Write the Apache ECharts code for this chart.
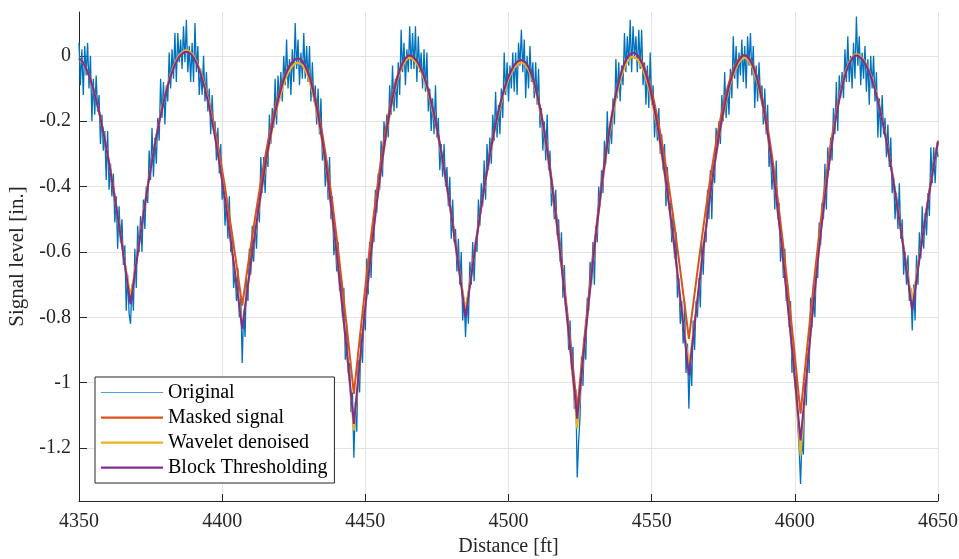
<!DOCTYPE html>
<html>
<head>
<meta charset="utf-8">
<script src="https://cdn.jsdelivr.net/npm/echarts@6/dist/echarts.min.js"></script>
<style>
html,body{margin:0;padding:0;background:#fff;}
#chart{width:959px;height:559px;}
</style>
</head>
<body>
<div id="chart"></div>
<script>
// Sampling grids (distance, ft)
const smoothStart = 4350, smoothStep = 1;
const origStart = 4350, origStep = 0.5;

const seriesNames = ['Original', 'Masked signal', 'Wavelet denoised', 'Block Thresholding'];
const xTicks = [4350, 4400, 4450, 4500, 4550, 4600, 4650];

// Masked signal, 1 ft steps from 4350 to 4650
const maskedSignal = [
-.008,-.015,-.030,-.049,-.073,-.101,-.134,-.170,-.211,-.254,-.302,-.351,-.404,-.459,-.516,-.574,-.634,-.694,
-.755,
-.693,-.632,-.571,-.512,-.454,-.398,-.345,-.295,-.246,-.202,-.161,-.124,-.091,-.062,-.038,-.018,-.003,.006,.012,
.012,.006,-.003,-.018,-.039,-.063,-.092,-.125,-.163,-.204,-.249,-.298,-.350,-.403,-.460,-.518,-.578,-.639,-.701,
-.764,
-.703,-.642,-.583,-.525,-.468,-.413,-.360,-.310,-.262,-.219,-.178,-.142,-.109,-.081,-.057,-.037,-.023,-.014,-.008,
-.009,-.016,-.029,-.048,-.074,-.107,-.146,-.190,-.239,-.294,-.353,-.418,-.485,-.557,-.632,-.710,-.789,-.869,-.952,
-1.034,
-.951,-.868,-.787,-.707,-.629,-.553,-.481,-.413,-.348,-.288,-.233,-.183,-.139,-.100,-.067,-.041,-.021,-.008,.001,
.001,-.006,-.016,-.031,-.051,-.076,-.106,-.140,-.178,-.220,-.266,-.316,-.368,-.423,-.480,-.540,-.601,-.663,-.726,
-.790,
-.727,-.665,-.604,-.544,-.485,-.429,-.375,-.324,-.275,-.229,-.188,-.151,-.117,-.088,-.063,-.044,-.029,-.019,-.013,
-.014,-.021,-.035,-.056,-.082,-.116,-.156,-.202,-.253,-.310,-.373,-.439,-.510,-.584,-.662,-.742,-.825,-.909,-.994,
-1.080,
-.992,-.906,-.820,-.735,-.653,-.574,-.498,-.426,-.358,-.295,-.236,-.184,-.137,-.096,-.062,-.034,-.013,.001,.008,
.009,.003,-.008,-.025,-.048,-.076,-.108,-.146,-.188,-.236,-.286,-.341,-.398,-.460,-.523,-.589,-.657,-.726,-.795,
-.866,
-.796,-.727,-.659,-.592,-.527,-.464,-.403,-.346,-.292,-.241,-.194,-.152,-.115,-.082,-.054,-.032,-.015,-.004,.002,
.001,-.006,-.020,-.041,-.069,-.104,-.145,-.192,-.245,-.304,-.368,-.436,-.509,-.585,-.665,-.748,-.833,-.919,-1.007,
-1.095,
-1.007,-.919,-.833,-.748,-.665,-.585,-.509,-.436,-.368,-.304,-.245,-.192,-.145,-.104,-.069,-.041,-.020,-.006,.001,
.001,-.005,-.014,-.029,-.048,-.072,-.101,-.134,-.172,-.213,-.258,-.307,-.357,-.411,-.467,-.526,-.586,-.646,-.708,
-.770,
-.708,-.646,-.586,-.526,-.468,-.412,-.358,-.308,-.259
];

// Wavelet denoised, 1 ft steps
const waveletDenoised = [
-.008,-.015,-.030,-.049,-.073,-.102,-.135,-.171,-.212,-.256,-.304,-.354,-.407,-.462,-.519,-.578,-.634,-.686,
-.733,
-.686,-.632,-.574,-.513,-.455,-.398,-.345,-.294,-.245,-.200,-.158,-.121,-.087,-.057,-.033,-.013,.002,.011,.017,
.017,.011,.000,-.016,-.038,-.065,-.097,-.133,-.175,-.220,-.269,-.324,-.380,-.438,-.501,-.565,-.630,-.697,-.762,
-.825,
-.764,-.701,-.641,-.578,-.515,-.458,-.400,-.346,-.295,-.248,-.203,-.166,-.132,-.101,-.074,-.053,-.038,-.027,-.021,
-.022,-.029,-.044,-.065,-.093,-.129,-.171,-.219,-.269,-.329,-.393,-.462,-.535,-.614,-.692,-.776,-.863,-.949,-1.046,
-1.146,
-1.045,-.948,-.859,-.771,-.687,-.607,-.528,-.454,-.385,-.320,-.260,-.207,-.159,-.117,-.081,-.053,-.031,-.016,-.007,
-.007,-.014,-.024,-.040,-.060,-.085,-.115,-.150,-.186,-.229,-.276,-.324,-.376,-.432,-.488,-.549,-.611,-.668,-.723,
-.774,
-.724,-.670,-.614,-.553,-.493,-.438,-.383,-.332,-.285,-.238,-.196,-.161,-.126,-.097,-.072,-.053,-.037,-.027,-.021,
-.022,-.029,-.043,-.065,-.092,-.127,-.168,-.215,-.266,-.325,-.389,-.455,-.528,-.604,-.682,-.764,-.849,-.939,-1.038,
-1.141,
-1.036,-.936,-.846,-.759,-.675,-.596,-.518,-.445,-.377,-.313,-.252,-.202,-.154,-.112,-.077,-.048,-.026,-.012,-.004,
-.004,-.011,-.024,-.043,-.069,-.099,-.136,-.179,-.222,-.276,-.333,-.393,-.457,-.527,-.595,-.669,-.746,-.815,-.882,
-.947,
-.883,-.816,-.746,-.670,-.597,-.528,-.459,-.395,-.336,-.279,-.226,-.181,-.139,-.102,-.072,-.047,-.028,-.015,-.006,
-.007,-.017,-.032,-.055,-.085,-.122,-.166,-.216,-.271,-.334,-.403,-.474,-.552,-.634,-.718,-.806,-.897,-.995,-1.105,
-1.223,
-1.105,-.995,-.894,-.803,-.715,-.628,-.546,-.468,-.394,-.325,-.262,-.204,-.154,-.110,-.073,-.043,-.020,-.005,.005,
.005,-.002,-.012,-.027,-.047,-.071,-.100,-.134,-.173,-.214,-.260,-.309,-.361,-.416,-.473,-.532,-.593,-.645,-.700,
-.748,
-.700,-.645,-.593,-.532,-.474,-.417,-.363,-.311,-.263
];

// Block thresholding, 1 ft steps
const blockThresholding = [
-.008,-.015,-.030,-.049,-.073,-.102,-.135,-.171,-.212,-.256,-.304,-.354,-.407,-.462,-.519,-.578,-.638,-.699,
-.760,
-.698,-.636,-.575,-.515,-.457,-.401,-.348,-.297,-.248,-.203,-.162,-.125,-.092,-.062,-.038,-.018,-.003,.006,.012,
.012,.006,-.005,-.021,-.043,-.070,-.102,-.138,-.179,-.224,-.273,-.327,-.383,-.441,-.503,-.567,-.632,-.699,-.767,
-.835,
-.769,-.702,-.637,-.574,-.511,-.451,-.393,-.339,-.286,-.239,-.194,-.155,-.119,-.088,-.061,-.040,-.025,-.014,-.008,
-.009,-.016,-.031,-.052,-.080,-.116,-.158,-.206,-.260,-.320,-.384,-.455,-.528,-.607,-.688,-.772,-.859,-.946,-1.036,
-1.126,
-1.035,-.945,-.857,-.769,-.685,-.603,-.524,-.450,-.379,-.314,-.254,-.199,-.151,-.109,-.073,-.045,-.023,-.008,.001,
.001,-.006,-.016,-.032,-.052,-.077,-.107,-.142,-.180,-.223,-.270,-.320,-.372,-.428,-.486,-.547,-.609,-.672,-.736,
-.800,
-.737,-.674,-.612,-.551,-.491,-.434,-.379,-.328,-.279,-.232,-.190,-.153,-.118,-.089,-.064,-.045,-.029,-.019,-.013,
-.014,-.021,-.035,-.057,-.084,-.119,-.160,-.207,-.260,-.319,-.383,-.451,-.524,-.600,-.680,-.762,-.847,-.934,-1.022,
-1.110,
-1.020,-.931,-.842,-.755,-.671,-.590,-.512,-.438,-.368,-.304,-.243,-.189,-.141,-.099,-.064,-.035,-.013,.001,.008,
.009,.002,-.011,-.030,-.056,-.086,-.123,-.166,-.213,-.267,-.324,-.386,-.450,-.520,-.591,-.665,-.742,-.820,-.898,
-.978,
-.899,-.821,-.744,-.668,-.595,-.524,-.455,-.391,-.330,-.273,-.220,-.173,-.131,-.094,-.064,-.039,-.020,-.007,.002,
.001,-.009,-.024,-.047,-.077,-.114,-.158,-.208,-.265,-.328,-.397,-.470,-.548,-.630,-.716,-.804,-.895,-.988,-1.082,
-1.177,
-1.082,-.988,-.895,-.804,-.716,-.630,-.548,-.470,-.397,-.328,-.265,-.208,-.158,-.114,-.077,-.047,-.024,-.009,.001,
.001,-.006,-.016,-.031,-.051,-.075,-.104,-.138,-.176,-.217,-.263,-.311,-.363,-.417,-.474,-.532,-.593,-.654,-.716,
-.779,
-.716,-.654,-.593,-.532,-.474,-.417,-.363,-.311,-.263
];

// Original (noisy) signal, 0.5 ft steps from 4350 to 4650
const originalSignal = [
.04,-.09,.02,-.12,.03,-.06,.04,-.10,.00,-.20,-.07,-.18,-.06,-.17,-.12,-.27,-.18,-.29,-.23,-.38,
-.23,-.41,-.33,-.43,-.36,-.51,-.43,-.59,-.46,-.57,-.50,-.64,-.58,-.78,-.67,-.79,-.82,-.70,-.78,-.59,
-.71,-.52,-.60,-.49,-.60,-.44,-.53,-.40,-.45,-.29,-.38,-.22,-.37,-.25,-.33,-.19,-.26,-.07,-.19,-.08,
-.21,-.09,-.14,.01,-.10,.02,-.07,.07,-.08,.07,-.02,.05,-.04,.09,-.02,.11,-.05,.03,-.08,.04,
-.08,.10,-.05,.03,-.12,-.04,-.12,.00,-.14,-.05,-.17,-.10,-.24,-.12,-.23,-.20,-.32,-.22,-.36,-.27,
-.44,-.39,-.52,-.44,-.56,-.43,-.60,-.54,-.71,-.66,-.75,-.65,-.80,-.74,-.94,-.78,-.86,-.68,-.75,-.59,
-.67,-.52,-.63,-.52,-.59,-.45,-.51,-.31,-.42,-.31,-.42,-.29,-.34,-.18,-.27,-.16,-.22,-.07,-.21,-.06,
-.14,-.05,-.14,.00,-.09,.05,-.10,-.01,-.12,.02,-.08,.10,-.04,.05,-.09,.01,-.07,.07,-.07,.03,
-.08,.03,-.14,-.02,-.14,-.09,-.21,-.10,-.24,-.13,-.32,-.27,-.40,-.32,-.44,-.31,-.50,-.43,-.61,-.56,
-.66,-.57,-.72,-.67,-.80,-.71,-.93,-.82,-.97,-.94,-1.09,-1.03,-1.23,-1.06,-1.15,-.93,-1.03,-.85,-.94,-.78,
-.84,-.62,-.73,-.57,-.68,-.54,-.57,-.41,-.48,-.36,-.41,-.26,-.37,-.20,-.26,-.18,-.25,-.09,-.18,-.03,
-.17,-.07,-.16,-.02,-.12,.08,-.05,.04,-.09,.02,-.05,.09,-.04,.07,-.04,.09,-.08,.06,-.05,.01,
-.10,.02,-.11,.01,-.17,-.10,-.23,-.13,-.24,-.09,-.25,-.19,-.35,-.27,-.37,-.27,-.40,-.34,-.46,-.37,
-.56,-.44,-.57,-.53,-.66,-.56,-.70,-.60,-.81,-.74,-.86,-.74,-.82,-.63,-.70,-.57,-.69,-.56,-.60,-.44,
-.52,-.39,-.46,-.32,-.44,-.27,-.35,-.25,-.33,-.18,-.26,-.11,-.25,-.15,-.24,-.10,-.19,.01,-.12,-.02,
-.14,-.03,-.10,.01,-.11,.01,-.12,.04,-.03,.08,-.05,.05,-.13,.00,-.10,.03,-.08,-.02,-.13,-.02,
-.15,-.04,-.22,-.16,-.29,-.20,-.32,-.18,-.35,-.29,-.46,-.41,-.50,-.41,-.55,-.50,-.63,-.54,-.74,-.64,
-.78,-.77,-.90,-.81,-.96,-.89,-1.08,-1.02,-1.29,-1.18,-1.10,-.92,-1.01,-.86,-.93,-.74,-.78,-.63,-.70,-.57,
-.70,-.52,-.57,-.40,-.46,-.35,-.42,-.26,-.33,-.17,-.30,-.21,-.27,-.13,-.21,-.01,-.13,-.02,-.14,-.03,
-.09,.07,-.05,.06,-.03,.11,-.05,.09,-.01,.06,-.05,.08,-.04,.08,-.09,-.02,-.15,-.03,-.16,.01,
-.15,-.09,-.25,-.17,-.26,-.16,-.30,-.24,-.35,-.27,-.46,-.34,-.47,-.45,-.57,-.48,-.62,-.54,-.74,-.68,
-.82,-.75,-.88,-.75,-.97,-.88,-1.08,-.92,-1.01,-.81,-.90,-.75,-.80,-.68,-.77,-.57,-.67,-.54,-.57,-.41,
-.50,-.35,-.50,-.33,-.39,-.22,-.28,-.20,-.27,-.12,-.20,-.05,-.19,-.09,-.18,-.04,-.13,.06,-.07,.03,
-.10,.01,-.06,.05,-.08,.03,-.10,.06,-.03,.07,-.06,.03,-.16,-.03,-.14,-.02,-.13,-.09,-.21,-.10,
-.24,-.15,-.34,-.29,-.41,-.33,-.47,-.32,-.50,-.45,-.63,-.57,-.68,-.59,-.75,-.70,-.83,-.75,-.97,-.86,
-1.01,-.98,-1.13,-1.20,-1.31,-1.17,-1.22,-1.00,-1.07,-.91,-.97,-.74,-.83,-.70,-.80,-.65,-.68,-.51,-.58,-.45,
-.50,-.33,-.47,-.28,-.35,-.25,-.32,-.16,-.24,-.08,-.23,-.06,-.13,-.05,-.13,.02,-.08,.06,-.08,.00,
-.10,.04,-.07,.12,-.03,.06,-.09,.01,-.07,.03,-.11,-.01,-.15,.00,-.10,.00,-.14,-.05,-.25,-.13,
-.25,-.12,-.24,-.19,-.31,-.21,-.34,-.25,-.42,-.37,-.50,-.42,-.53,-.39,-.56,-.50,-.67,-.60,-.70,-.61,
-.75,-.71,-.84,-.70,-.81,-.61,-.70,-.54,-.62,-.46,-.59,-.48,-.55,-.42,-.49,-.28,-.39,-.28,-.39,-.28,
-.31
];

const toPairs = (vals, start, step) => vals.map((v, i) => [start + i * step, v]);

const chart = echarts.init(document.getElementById('chart'), null, {renderer: 'canvas'});
const serif = 'Liberation Serif, Times New Roman, serif';
const textColor = '#262626';
// legend line glyphs: a horizontal bar inside a 62x12 box (tiny corner dots fix the box)
const thinLine = 'path://M0,0h0.01v0.01h-0.01zM61.99,11.99h0.01v0.01h-0.01zM0,5.6h62v1h-62z';
const thickLine = 'path://M0,0h0.01v0.01h-0.01zM61.99,11.99h0.01v0.01h-0.01zM0,5h62v2.2h-62z';

chart.setOption({
  animation: false,
  backgroundColor: '#ffffff',
  grid: {left: 79, right: 21, top: 12, bottom: 58, containLabel: false, outerBoundsMode: 'none'},
  legend: {
    orient: 'vertical', left: 95, top: 377,
    itemWidth: 62, itemHeight: 12, itemGap: 0,
    padding: [3, 7, 3, 6],
    borderColor: '#262626', borderWidth: 1, backgroundColor: '#ffffff',
    textStyle: {fontFamily: serif, fontSize: 20, color: '#000', lineHeight: 25},
    data: [
      {name: seriesNames[0], icon: thinLine, itemStyle: {color: '#4fa3dc'}},
      {name: seriesNames[1], icon: thickLine},
      {name: seriesNames[2], icon: thickLine},
      {name: seriesNames[3], icon: thickLine}
    ]
  },
  xAxis: {
    type: 'value', min: xTicks[0], max: xTicks[xTicks.length - 1], interval: 50,
    name: 'Distance [ft]', nameLocation: 'middle', nameGap: 35,
    nameTextStyle: {fontFamily: serif, fontSize: 20, color: textColor},
    axisLine: {show: true, onZero: false, lineStyle: {color: textColor, width: 1}},
    axisTick: {show: true, inside: true, length: 7, lineStyle: {color: textColor}},
    axisLabel: {fontFamily: serif, fontSize: 20, color: textColor, margin: 11,
      formatter: v => String(v)},
    splitLine: {show: true, lineStyle: {color: '#e3e3e3', width: 1}}
  },
  yAxis: {
    type: 'value', min: -1.362, max: 0.134, splitNumber: 7,
    name: 'Signal level [in.]', nameLocation: 'middle', nameGap: 45, nameRotate: 90,
    nameTextStyle: {fontFamily: serif, fontSize: 21, color: textColor},
    axisLine: {show: true, onZero: false, lineStyle: {color: textColor, width: 1}},
    axisTick: {show: true, inside: true, length: 8, lineStyle: {color: textColor}},
    axisLabel: {fontFamily: serif, fontSize: 20, color: textColor, margin: 8,
      showMinLabel: false, showMaxLabel: false,
      formatter: v => String(Math.round(v * 10) / 10)},
    splitLine: {show: true, showMinLine: false, showMaxLine: false, lineStyle: {color: '#e3e3e3', width: 1}}
  },
  series: [
    {name: seriesNames[0], type: 'line', symbol: 'none', data: toPairs(originalSignal, origStart, origStep),
     lineStyle: {color: '#0072BD', width: 1.3}, itemStyle: {color: '#4fa3dc'}},
    {name: seriesNames[1], type: 'line', symbol: 'none', data: toPairs(maskedSignal, smoothStart, smoothStep),
     lineStyle: {color: '#D95319', width: 2}, itemStyle: {color: '#D95319'}},
    {name: seriesNames[2], type: 'line', symbol: 'none', data: toPairs(waveletDenoised, smoothStart, smoothStep),
     lineStyle: {color: '#EDB120', width: 2}, itemStyle: {color: '#EDB120'}},
    {name: seriesNames[3], type: 'line', symbol: 'none', data: toPairs(blockThresholding, smoothStart, smoothStep),
     lineStyle: {color: '#7E2F8E', width: 2}, itemStyle: {color: '#7E2F8E'}}
  ]
});
</script>
</body>
</html>
